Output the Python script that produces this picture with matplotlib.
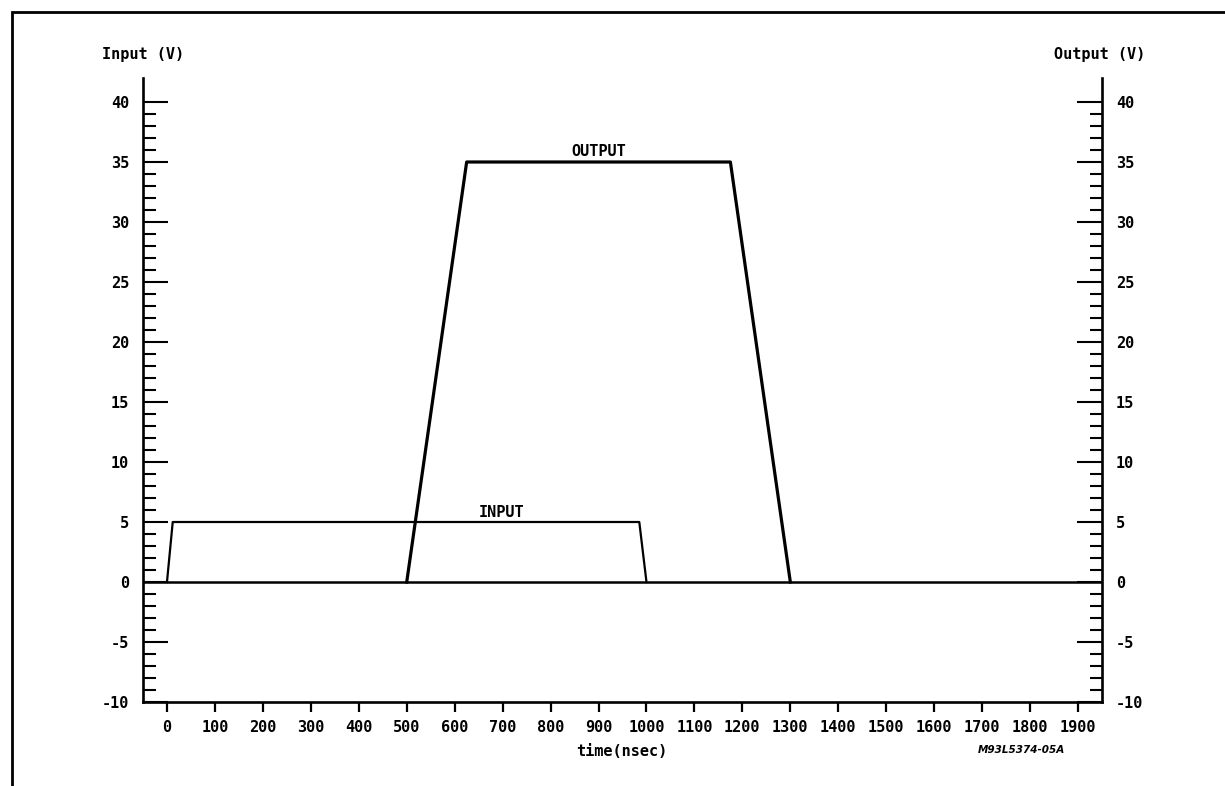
import numpy as np
import matplotlib
matplotlib.use("Agg")
import matplotlib.pyplot as plt
from matplotlib.ticker import FixedLocator
from matplotlib.patches import Rectangle

# datos (tiempo en nsec, tension en V)
t_input = [0, 12, 985, 1000]
v_input = [0, 5, 5, 0]
t_output = [500, 625, 1175, 1300]
v_output = [0, 35, 35, 0]
x_ticks = list(range(0, 2000, 100))
y_ticks = list(range(-10, 45, 5))
y_menores = [v for v in range(-10, 41) if v % 5 != 0]

fuente = {"family": "DejaVu Sans Mono", "weight": "bold", "size": 11}

fig = plt.figure(figsize=(12.25, 7.86), dpi=100)
ax = fig.add_axes([143 / 1225, 84 / 786, 959 / 1225, 624 / 786])

ax.axhline(0, color="black", lw=1.8)
ax.plot(t_input, v_input, color="black", lw=1.6, solid_joinstyle="round")
ax.plot(t_output, v_output, color="black", lw=2.3, solid_joinstyle="round")

ax.set_xlim(-50, 1950)
ax.set_ylim(-10, 42)

ax.spines["top"].set_visible(False)
for lado in ["left", "right", "bottom"]:
    ax.spines[lado].set_linewidth(1.9)

ax.set_xticks(x_ticks)
ax.set_xticklabels([str(v) for v in x_ticks], fontdict=fuente)
ax.tick_params(axis="x", direction="out", length=7, width=1.6, pad=6)

ax.set_yticks(y_ticks)
ax.set_yticklabels([str(v) for v in y_ticks], fontdict=fuente)
ax.yaxis.set_minor_locator(FixedLocator(y_menores))
ax.tick_params(axis="y", which="major", direction="in", length=18, width=1.5,
               left=True, right=True, labelleft=True, labelright=True, pad=10)
ax.tick_params(axis="y", which="minor", direction="in", length=9, width=1.5,
               left=True, right=True)

# etiquetas de ejes y de curvas
fig.text(143 / 1225, 1 - 55 / 786, "Input (V)", ha="center", va="center", fontdict=fuente)
fig.text(1100 / 1225, 1 - 55 / 786, "Output (V)", ha="center", va="center", fontdict=fuente)
ax.text(900, 35.9, "OUTPUT", ha="center", va="center", fontdict=fuente)
ax.text(697, 5.8, "INPUT", ha="center", va="center", fontdict=fuente)
fig.text(622 / 1225, 1 - 751 / 786, "time(nsec)", ha="center", va="center", fontdict=fuente)
fig.text(1021 / 1225, 1 - 750 / 786, "M93L5374-05A", ha="center", va="center",
         family="DejaVu Sans", weight="bold", style="italic", size=7.5)

# marco alrededor de la figura
marco = Rectangle((12 / 1225, -0.2), 1.5, 1.2 - 12 / 786, transform=fig.transFigure,
                  fill=False, edgecolor="black", lw=2, clip_on=False)
fig.add_artist(marco)

fig.savefig("out.png", dpi=100)
